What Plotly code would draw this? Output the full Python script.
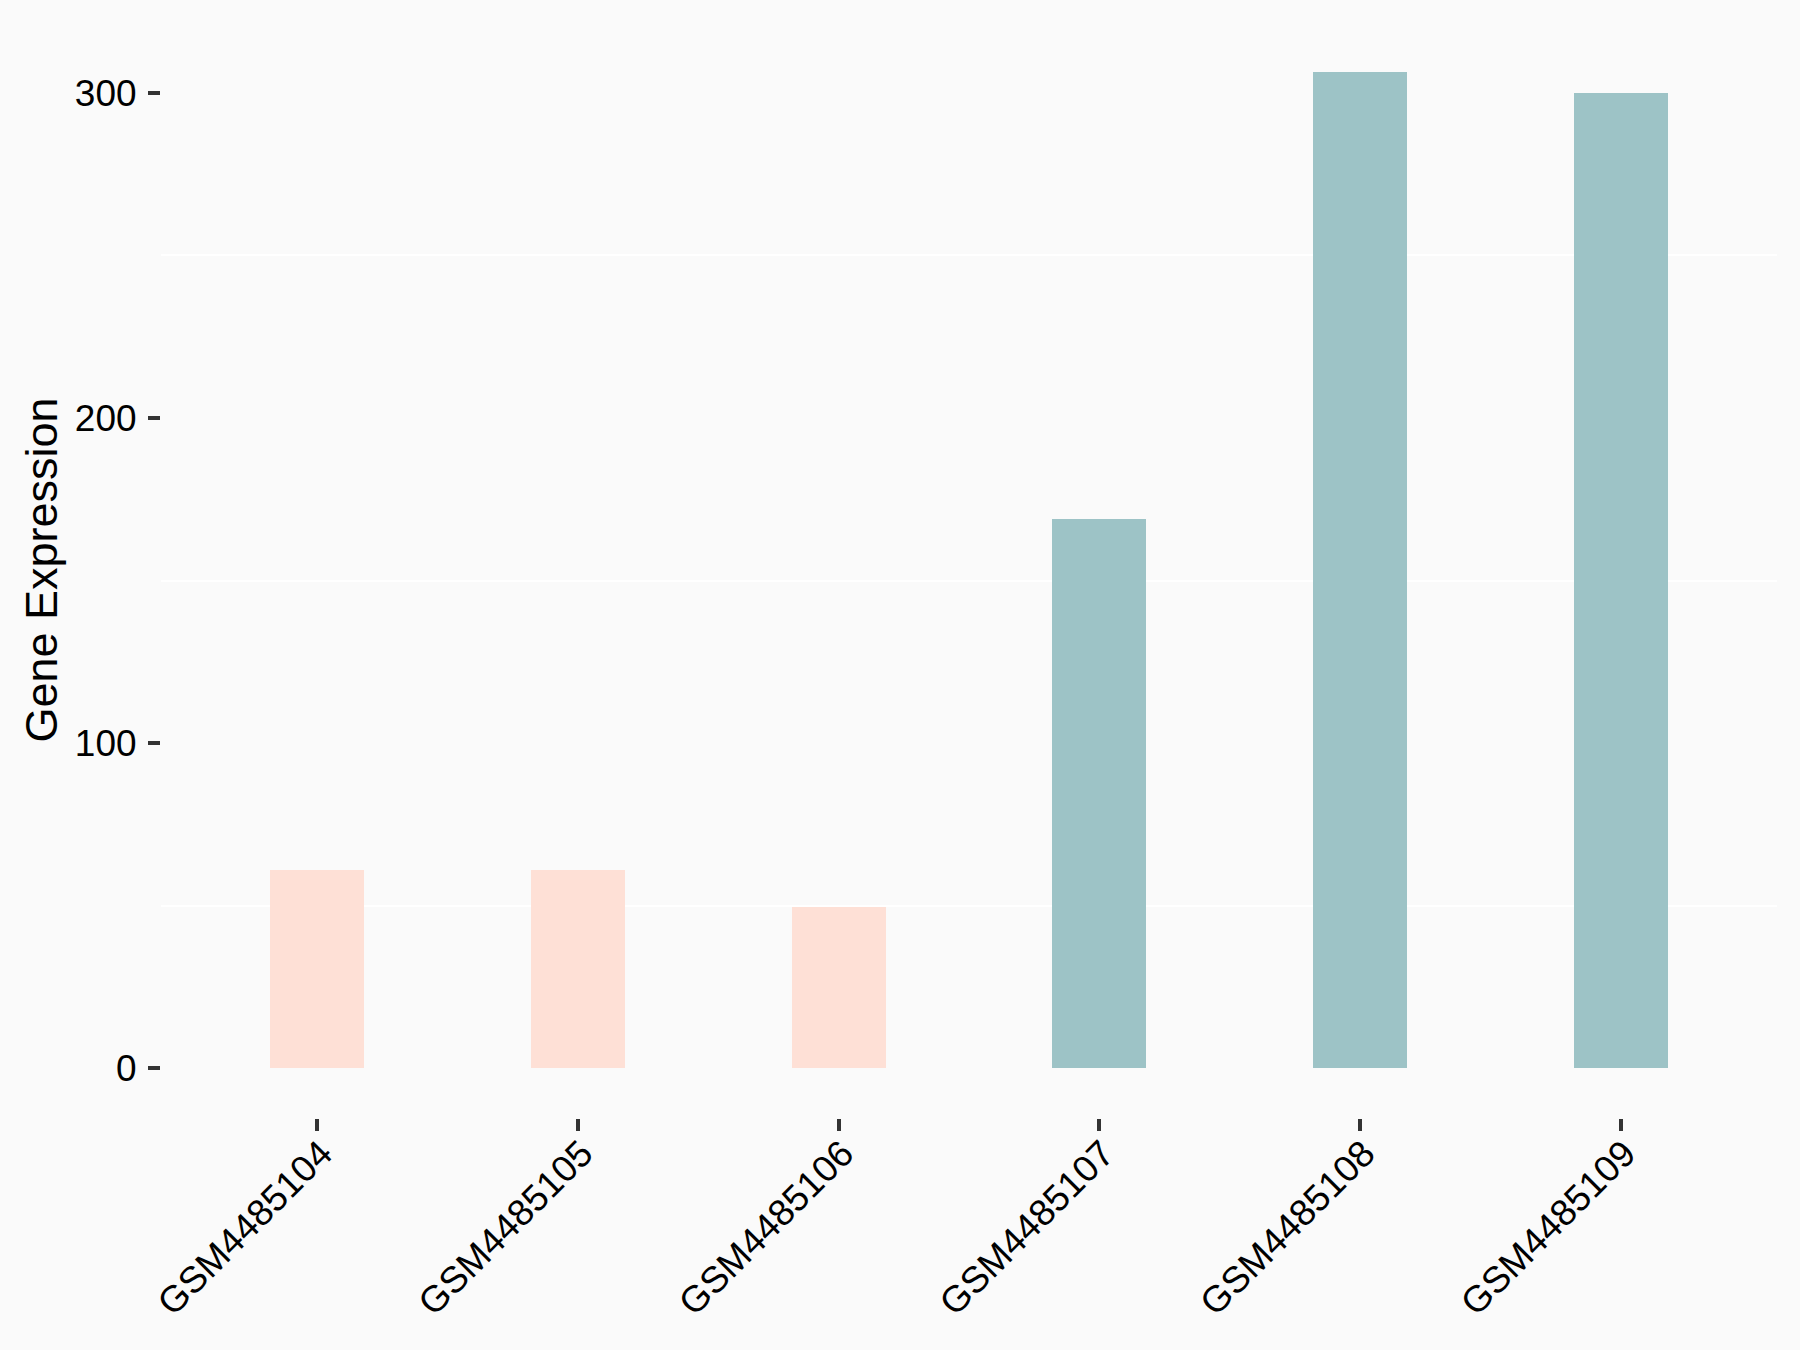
import plotly.graph_objects as go

samples = ["GSM4485104", "GSM4485105", "GSM4485106", "GSM4485107", "GSM4485108", "GSM4485109"]
expression = [61, 61, 49.7, 169, 306.5, 300]
groups = ["A", "A", "A", "B", "B", "B"]
group_colors = {"A": "#FEE0D6", "B": "#9DC3C6"}
y_ticks = [0, 100, 200, 300]

ymax = max(expression)
pad = 0.05 * ymax

fig = go.Figure(
    go.Bar(
        x=samples,
        y=expression,
        width=0.36,
        marker=dict(color=[group_colors[g] for g in groups], line=dict(width=0)),
        showlegend=False,
    )
)

fig.update_layout(
    width=1800,
    height=1350,
    autosize=False,
    margin=dict(l=161, r=23, t=22, b=232),
    paper_bgcolor="#FAFAFA",
    plot_bgcolor="#FAFAFA",
    font=dict(family="Liberation Sans, Arial, sans-serif", color="black"),
    bargap=0,
)

fig.update_xaxes(
    type="category",
    range=[-0.6, len(samples) - 0.4],
    showgrid=False,
    showline=False,
    zeroline=False,
    ticks="outside",
    ticklen=12,
    tickwidth=3.5,
    tickcolor="#333333",
    tickangle=-45,
    tickfont=dict(size=37, color="black"),
    ticklabelstandoff=-14,
    ticklabelshift=4,
)

fig.update_yaxes(
    range=[-pad, ymax + pad],
    tickvals=y_ticks,
    ticktext=[str(v) for v in y_ticks],
    showgrid=False,
    showline=False,
    zeroline=False,
    ticks="outside",
    ticklen=12,
    tickwidth=3.5,
    tickcolor="#333333",
    tickfont=dict(size=37, color="black"),
    ticklabelstandoff=4,
    minor=dict(tick0=50, dtick=100, showgrid=True, gridcolor="#FFFFFF", gridwidth=2, ticks=""),
    title=dict(text="Gene Expression", font=dict(size=45, color="black"), standoff=3),
)

fig.write_html(
    "out.html",
    config={"displayModeBar": False},
    post_script="document.body.style.margin='0';document.body.style.padding='0';document.body.style.background='#FAFAFA';",
)
